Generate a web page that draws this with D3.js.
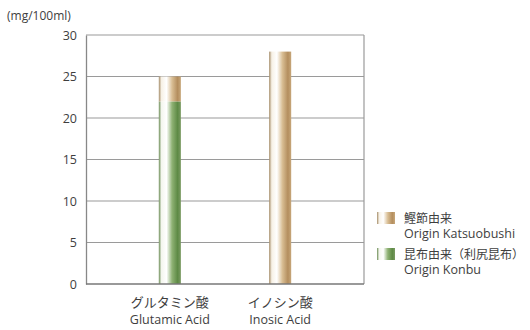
<!DOCTYPE html>
<html>
<head>
<meta charset="utf-8">
<script src="https://cdn.jsdelivr.net/npm/d3@7"></script>
<style>
  body { margin: 0; background: #fff; }
  text { fill: #3e3e3e; }
</style>
</head>
<body>
<svg id="chart" width="530" height="330"></svg>
<script>
// data
const categoriesJa = ["グルタミン酸", "イノシン酸"];
const categoriesEn = ["Glutamic Acid", "Inosic Acid"];
const konbu = [22, 0];        // 昆布由来（利尻昆布）
const katsuobushi = [3, 28];  // 鰹節由来
const yTicks = [0, 5, 10, 15, 20, 25, 30];
const seriesKeys = ["konbu", "katsuobushi"];
const legendJa = ["鰹節由来", "昆布由来（利尻昆布）"];
const legendEn = ["Origin Katsuobushi", "Origin Konbu"];

const rows = categoriesEn.map((c, i) => ({ cat: c, konbu: konbu[i], katsuobushi: katsuobushi[i] }));

const svg = d3.select("#chart");
const plotL = 86, plotR = 364, plotT = 35, plotB = 284;
const jaFont = "'Noto Sans CJK JP', sans-serif";
const enFont = "'Open Sans', 'Noto Sans', sans-serif";

// gradients
const defs = svg.append("defs");
const grads = {
  konbu: ["#6b8c55", "#f4f6ee", "#ffffff", "#8fb274", "#5e8a45", "#7a9a62"],
  katsuobushi: ["#a48c68", "#f7f1e6", "#ffffff", "#d9be94", "#b48e5e", "#c7a77a"]
};
Object.keys(grads).forEach(k => {
  const g = defs.append("linearGradient").attr("id", "g-" + k)
    .attr("x1", "0%").attr("x2", "100%").attr("y1", "0%").attr("y2", "0%");
  const offs = [0, 0.12, 0.35, 0.6, 0.85, 1];
  grads[k].forEach((c, i) => g.append("stop").attr("offset", offs[i]).attr("stop-color", c));
});

const y = d3.scaleLinear().domain([0, 30]).range([plotB, plotT]);
const x = d3.scaleBand().domain(categoriesEn).range([plotL, plotR])
  .paddingInner(0.8).paddingOuter(0.66);

// grid
svg.append("g").selectAll("line").data(yTicks.filter(d => d > 0)).join("line")
  .attr("x1", plotL).attr("x2", plotR)
  .attr("y1", d => y(d)).attr("y2", d => y(d))
  .attr("stroke", "#9a9a9a").attr("stroke-width", 1.2);
svg.append("line").attr("x1", plotR).attr("x2", plotR).attr("y1", plotT).attr("y2", plotB)
  .attr("stroke", "#9a9a9a").attr("stroke-width", 1.2);

// y axis
const yAxis = svg.append("g").attr("transform", `translate(${plotL},0)`)
  .call(d3.axisLeft(y).tickValues(yTicks).tickSize(0).tickPadding(9));
yAxis.select(".domain").attr("stroke", "#888").attr("stroke-width", 1.3);
yAxis.selectAll("text").style("font-family", enFont).style("font-size", "12.5px").attr("fill", "#3e3e3e");

svg.append("text").attr("x", 7).attr("y", 20)
  .style("font-family", enFont).style("font-size", "12px").text("(mg/100ml)");

// bars
const stack = d3.stack().keys(seriesKeys)(rows);
svg.append("g").selectAll("g").data(stack).join("g")
  .attr("fill", d => `url(#g-${d.key})`)
  .selectAll("rect").data(d => d).join("rect")
  .attr("x", d => x(d.data.cat))
  .attr("width", x.bandwidth())
  .attr("y", d => y(d[1]))
  .attr("height", d => y(d[0]) - y(d[1]));

// baseline
svg.append("line").attr("x1", plotL).attr("x2", plotR).attr("y1", plotB).attr("y2", plotB)
  .attr("stroke", "#777").attr("stroke-width", 1.6);

// category labels
const cl = svg.append("g");
cl.selectAll("text.ja").data(categoriesJa).join("text").attr("class", "ja")
  .attr("x", (d, i) => x(categoriesEn[i]) + x.bandwidth() / 2).attr("y", 307)
  .attr("text-anchor", "middle").style("font-family", jaFont).style("font-size", "13px")
  .text(d => d);
cl.selectAll("text.en").data(categoriesEn).join("text").attr("class", "en")
  .attr("x", d => x(d) + x.bandwidth() / 2).attr("y", 324)
  .attr("text-anchor", "middle").style("font-family", enFont).style("font-size", "12.5px")
  .text(d => d);

// legend
const legendKeys = ["katsuobushi", "konbu"];
const lg = svg.append("g").selectAll("g").data(legendKeys).join("g")
  .attr("transform", (d, i) => `translate(377,${212 + i * 36})`);
lg.append("rect").attr("width", 18).attr("height", 12).attr("fill", d => `url(#g-${d})`);
lg.append("text").attr("x", 27).attr("y", 11)
  .style("font-family", jaFont).style("font-size", "12px").text((d, i) => legendJa[i]);
lg.append("text").attr("x", 27).attr("y", 26)
  .style("font-family", enFont).style("font-size", "12.5px").text((d, i) => legendEn[i]);
</script>
</body>
</html>
